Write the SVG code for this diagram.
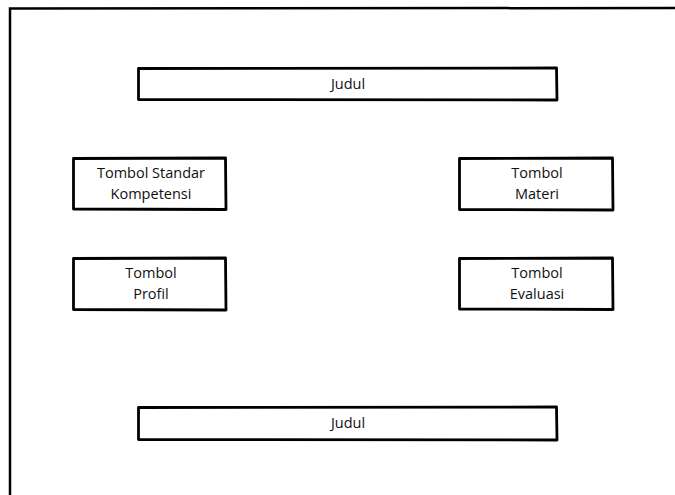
<svg xmlns="http://www.w3.org/2000/svg" width="675" height="495" viewBox="0 0 675 495">
<style>
.box{fill:#fff;stroke:#000;stroke-width:2.8;stroke-linejoin:round}
.frame{fill:none;stroke:#000;stroke-width:2.5}
text{font-family:"Open Sans","Liberation Sans",sans-serif;font-size:14.5px;font-weight:500;fill:#111;text-anchor:middle}
</style>
<rect width="675" height="495" fill="#fff"/>
<g id="frame"><path class="frame" d="M10 495 L10 8.5 L675 8"/></g>
<g id="judul-top"><path class="box" d="M138.5 68.5 L556.5 68 L557 100 L138.5 99.5 Z"/><text x="348" y="89">Judul</text></g>
<g id="tombol-standar"><path class="box" d="M73.5 158.5 L225.5 158 L226 209.5 L73.5 209 Z"/><text x="151" y="178">Tombol Standar</text><text x="151" y="199">Kompetensi</text></g>
<g id="tombol-materi"><path class="box" d="M459.5 158.5 L612.5 158 L613 210 L459.5 209.5 Z"/><text x="537" y="178">Tombol</text><text x="537" y="199">Materi</text></g>
<g id="tombol-profil"><path class="box" d="M73.5 258.5 L225.5 258 L226 310 L73.5 309.5 Z"/><text x="151" y="278">Tombol</text><text x="151" y="299">Profil</text></g>
<g id="tombol-evaluasi"><path class="box" d="M459.5 258.5 L612.5 258 L613 309.5 L459.5 309 Z"/><text x="537" y="278">Tombol</text><text x="537" y="299">Evaluasi</text></g>
<g id="judul-bottom"><path class="box" d="M138.5 407.5 L556.5 407 L557 440 L138.5 439.5 Z"/><text x="348" y="428">Judul</text></g>
<g id="connectors"></g>
</svg>
